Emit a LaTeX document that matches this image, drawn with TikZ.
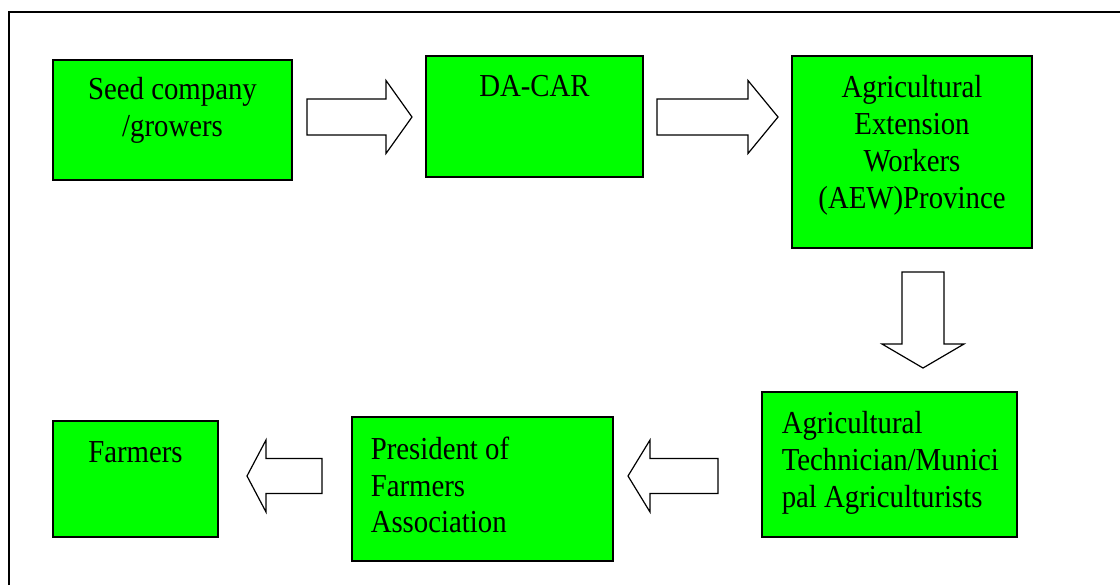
\documentclass[tikz,border=0pt]{standalone}
\usepackage{fontspec}
\setmainfont[FakeStretch=0.9]{Liberation Serif}
\usetikzlibrary{calc}
\definecolor{boxgreen}{RGB}{0,255,0}
\tikzset{
  box/.style={draw=black, fill=boxgreen, line width=0.65pt, inner sep=0pt},
  boxtext/.style={inner sep=0pt, font=\fontsize{16}{18.4}\selectfont},
  fatarrow/.style={draw=black, fill=white, line width=0.6pt, line join=miter}
}
% block arrow: #1 start, #2 tip, #3 shaft half width, #4 head half width, #5 head length
\newcommand{\fatarrow}[5]{%
  \coordinate (hb) at ($(#2)!#5!(#1)$);
  \draw[fatarrow] ($(#1)!#3!90:(#2)$) -- ($(hb)!#3!-90:(#1)$) -- ($(hb)!#4!-90:(#1)$)
    -- (#2) -- ($(hb)!#4!90:(#1)$) -- ($(hb)!#3!90:(#1)$) -- ($(#1)!#3!-90:(#2)$) -- cycle;
}
\begin{document}
\begin{tikzpicture}[x=0.5pt, y=-0.5pt]
\useasboundingbox (0,0) rectangle (1120,585);
% frame
\draw[line width=1pt] (8.5,585) -- (8.5,12) -- (1120,12);
% boxes
\node[box, minimum width=119.5pt, minimum height=60pt] (seed) at (172.5,120) {};
\node[box, minimum width=108.5pt, minimum height=60.5pt] (dacar) at (534.5,116.5) {};
\node[box, minimum width=120pt, minimum height=96pt] (aew) at (912,152) {};
\node[box, minimum width=127.5pt, minimum height=72.5pt] (tech) at (889.5,464.5) {};
\node[box, minimum width=130.5pt, minimum height=72pt] (pres) at (482.5,489) {};
\node[box, minimum width=82.5pt, minimum height=58pt] (farm) at (135.5,479) {};
% texts
\node[boxtext, anchor=north, align=center] (seedtxt) at ([yshift=-9pt]seed.north) {Seed company\\/growers};
\node[boxtext, anchor=north, align=center] (dacartxt) at ([yshift=-10pt]dacar.north) {DA-CAR};
\node[boxtext, anchor=north, align=center] (aewtxt) at ([yshift=-10pt]aew.north) {Agricultural\\Extension\\Workers\\(AEW)Province};
\node[boxtext, anchor=north west, align=left] (techtxt) at ([xshift=10pt, yshift=-10pt]tech.north west) {Agricultural\\Technician/Munici\\pal Agriculturists};
\node[boxtext, anchor=north west, align=left] (prestxt) at ([xshift=9.5pt, yshift=-10pt]pres.north west) {President of\\Farmers\\Association};
\node[boxtext, anchor=north, align=center] (farmtxt) at ([yshift=-10.5pt]farm.north) {Farmers};
% arrows
\coordinate (a1s) at (307,117);  \coordinate (a1e) at (412,117);
\coordinate (a2s) at (657,117);  \coordinate (a2e) at (778,117);
\coordinate (a3s) at (923,272);  \coordinate (a3e) at (923,368);
\coordinate (a4s) at (718,476);  \coordinate (a4e) at (628,476);
\coordinate (a5s) at (322,476);  \coordinate (a5e) at (247,476);
\fatarrow{a1s}{a1e}{9pt}{18.25pt}{13pt}
\fatarrow{a2s}{a2e}{9pt}{18.25pt}{15pt}
\fatarrow{a3s}{a3e}{10.5pt}{20.5pt}{12pt}
\fatarrow{a4s}{a4e}{8.75pt}{18pt}{11pt}
\fatarrow{a5s}{a5e}{8.75pt}{18pt}{9.5pt}
\end{tikzpicture}
\end{document}
